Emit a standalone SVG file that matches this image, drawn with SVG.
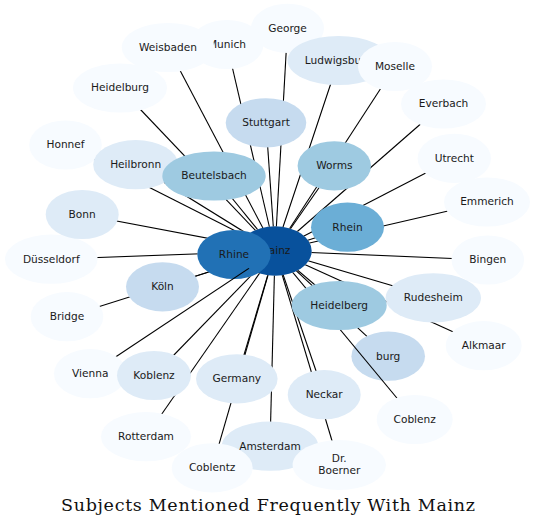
<svg xmlns="http://www.w3.org/2000/svg" width="536" height="528" viewBox="0 0 536 528">
<style>
.n ellipse{stroke:none}
.n text{font-family:"DejaVu Sans","Liberation Sans",sans-serif;font-size:10.6px;fill:#1a1a1a;text-anchor:middle}
.c0{fill:#f7fbff}.c1{fill:#deebf7}.c2{fill:#c6dbef}.c3{fill:#9ecae1}.c4{fill:#6baed6}.c6{fill:#2171b5}.c7{fill:#08519c}
#edges line{stroke:#000;stroke-width:1.1}
.title{font-family:"DejaVu Serif","Liberation Serif",serif;font-size:17.5px;fill:#111;text-anchor:middle}
</style>
<defs>
<mask id="mA" maskUnits="userSpaceOnUse" x="0" y="0" width="536" height="528">
<rect width="536" height="528" fill="#fff"/>
<ellipse cx="275" cy="251" rx="36.7" ry="24.7" fill="#000"/>
<ellipse cx="234" cy="254.5" rx="36.7" ry="24.6" fill="#000"/>
<ellipse cx="388.2" cy="356.2" rx="36.8" ry="24.6" fill="#000"/>
</mask>
<mask id="mB" maskUnits="userSpaceOnUse" x="0" y="0" width="536" height="528">
<rect width="536" height="528" fill="#fff"/>
<ellipse cx="275" cy="251" rx="36.7" ry="24.7" fill="#000"/>
</mask>
</defs>
<rect width="536" height="528" fill="#fff"/>

<g id="node-Mainz" class="n"><ellipse class="c7" cx="275" cy="251" rx="36.7" ry="24.7"/><text x="275" y="254.3">Mainz</text></g>
<g id="node-Rhine" class="n"><ellipse class="c6" cx="234" cy="254.5" rx="36.7" ry="24.6"/><text x="234" y="257.8">Rhine</text></g>
<g id="node-burg" class="n"><ellipse class="c2" cx="388.2" cy="356.2" rx="36.8" ry="24.6"/><text x="388.2" y="359.5">burg</text></g>

<g id="edges">
<g mask="url(#mA)">
<line x1="275" y1="251" x2="287.5" y2="28.3"/>
<line x1="275" y1="251" x2="227" y2="44.5"/>
<line x1="275" y1="251" x2="168" y2="47.5"/>
<line x1="275" y1="251" x2="338.5" y2="60.5"/>
<line x1="275" y1="251" x2="395" y2="66.5"/>
<line x1="275" y1="251" x2="443.5" y2="104"/>
<line x1="275" y1="251" x2="120" y2="88"/>
<line x1="275" y1="251" x2="266" y2="122.8"/>
<line x1="275" y1="251" x2="65.5" y2="145"/>
<line x1="275" y1="251" x2="135.7" y2="164.7"/>
<line x1="275" y1="251" x2="214" y2="176"/>
<line x1="275" y1="251" x2="334.3" y2="165.8"/>
<line x1="275" y1="251" x2="454.3" y2="158.3"/>
<line x1="275" y1="251" x2="487" y2="202"/>
<line x1="275" y1="251" x2="347.5" y2="227.2"/>
<line x1="275" y1="251" x2="82.2" y2="214.5"/>
<line x1="275" y1="251" x2="51.3" y2="259.2"/>
<line x1="275" y1="251" x2="487.8" y2="260"/>
<line x1="275" y1="251" x2="162.5" y2="286.8"/>
<line x1="275" y1="251" x2="67" y2="316.7"/>
<line x1="275" y1="251" x2="339.2" y2="305.5"/>
<line x1="275" y1="251" x2="433.3" y2="297.8"/>
<line x1="275" y1="251" x2="483.7" y2="345.7"/>
<line x1="275" y1="251" x2="388.2" y2="356.2"/>
<line x1="275" y1="251" x2="154" y2="375.5"/>
<line x1="275" y1="251" x2="236.8" y2="378.8"/>
<line x1="275" y1="251" x2="324.2" y2="394.7"/>
<line x1="275" y1="251" x2="146" y2="436.7"/>
<line x1="275" y1="251" x2="270" y2="446.2"/>
<line x1="275" y1="251" x2="212.2" y2="467.8"/>
<line x1="275" y1="251" x2="339.3" y2="465"/>
</g>
<g mask="url(#mB)">
<line x1="275" y1="251" x2="90.3" y2="373.7"/>
<line x1="275" y1="251" x2="414.7" y2="419.5"/>
</g>
</g>

<g id="node-George" class="n"><ellipse class="c0" cx="287.5" cy="28.3" rx="36.5" ry="24.6"/><text x="287.5" y="31.6">George</text></g>
<g id="node-Munich" class="n"><ellipse class="c0" cx="227" cy="44.5" rx="36.5" ry="24.6"/><text x="227" y="47.8">Munich</text></g>
<g id="node-Weisbaden" class="n"><ellipse class="c0" cx="168" cy="47.5" rx="46.3" ry="24.6"/><text x="168" y="50.8">Weisbaden</text></g>
<g id="node-Ludwigsburg" class="n"><ellipse class="c1" cx="338.5" cy="60.5" rx="51" ry="24.6"/><text x="338.5" y="63.8">Ludwigsburg</text></g>
<g id="node-Moselle" class="n"><ellipse class="c0" cx="395" cy="66.5" rx="37" ry="24.6"/><text x="395" y="69.8">Moselle</text></g>
<g id="node-Everbach" class="n"><ellipse class="c0" cx="443.5" cy="104" rx="42.5" ry="24.6"/><text x="443.5" y="107.3">Everbach</text></g>
<g id="node-Heidelburg" class="n"><ellipse class="c0" cx="120" cy="88" rx="47" ry="24.6"/><text x="120" y="91.3">Heidelburg</text></g>
<g id="node-Stuttgart" class="n"><ellipse class="c2" cx="266" cy="122.8" rx="40.3" ry="24.6"/><text x="266" y="126.1">Stuttgart</text></g>
<g id="node-Honnef" class="n"><ellipse class="c0" cx="65.5" cy="145" rx="36.3" ry="24.6"/><text x="65.5" y="148.3">Honnef</text></g>
<g id="node-Heilbronn" class="n"><ellipse class="c1" cx="135.7" cy="164.7" rx="42.5" ry="24.6"/><text x="135.7" y="168">Heilbronn</text></g>
<g id="node-Beutelsbach" class="n"><ellipse class="c3" cx="214" cy="176" rx="51.7" ry="24.6"/><text x="214" y="179.3">Beutelsbach</text></g>
<g id="node-Worms" class="n"><ellipse class="c3" cx="334.3" cy="165.8" rx="36.7" ry="24.6"/><text x="334.3" y="169.1">Worms</text></g>
<g id="node-Utrecht" class="n"><ellipse class="c0" cx="454.3" cy="158.3" rx="36.7" ry="24.6"/><text x="454.3" y="161.6">Utrecht</text></g>
<g id="node-Emmerich" class="n"><ellipse class="c0" cx="487" cy="202" rx="43" ry="24.6"/><text x="487" y="205.3">Emmerich</text></g>
<g id="node-Rhein" class="n"><ellipse class="c4" cx="347.5" cy="227.2" rx="36.5" ry="24.6"/><text x="347.5" y="230.5">Rhein</text></g>
<g id="node-Dusseldorf" class="n"><ellipse class="c0" cx="51.3" cy="259.2" rx="46.3" ry="24.6"/><text x="51.3" y="262.5">Düsseldorf</text></g>
<g id="node-Bonn" class="n"><ellipse class="c1" cx="82.2" cy="214.5" rx="36.5" ry="24.6"/><text x="82.2" y="217.8">Bonn</text></g>
<g id="node-Bingen" class="n"><ellipse class="c0" cx="487.8" cy="260" rx="36.3" ry="24.6"/><text x="487.8" y="263.3">Bingen</text></g>
<g id="node-Koln" class="n"><ellipse class="c2" cx="162.5" cy="286.8" rx="36.5" ry="24.6"/><text x="162.5" y="290.1">Köln</text></g>
<g id="node-Bridge" class="n"><ellipse class="c0" cx="67" cy="316.7" rx="36.3" ry="24.6"/><text x="67" y="320">Bridge</text></g>
<g id="node-Heidelberg" class="n"><ellipse class="c3" cx="339.2" cy="305.5" rx="47.5" ry="24.6"/><text x="339.2" y="308.8">Heidelberg</text></g>
<g id="node-Rudesheim" class="n"><ellipse class="c1" cx="433.3" cy="297.8" rx="47.7" ry="24.6"/><text x="433.3" y="301.1">Rudesheim</text></g>
<g id="node-Alkmaar" class="n"><ellipse class="c0" cx="483.7" cy="345.7" rx="38" ry="24.6"/><text x="483.7" y="349">Alkmaar</text></g>
<g id="node-Vienna" class="n"><ellipse class="c0" cx="90.3" cy="373.7" rx="36.3" ry="24.6"/><text x="90.3" y="377">Vienna</text></g>
<g id="node-Koblenz" class="n"><ellipse class="c1" cx="154" cy="375.5" rx="37" ry="24.6"/><text x="154" y="378.8">Koblenz</text></g>
<g id="node-Germany" class="n"><ellipse class="c1" cx="236.8" cy="378.8" rx="40.8" ry="24.6"/><text x="236.8" y="382.1">Germany</text></g>
<g id="node-Neckar" class="n"><ellipse class="c1" cx="324.2" cy="394.7" rx="36.5" ry="24.6"/><text x="324.2" y="398">Neckar</text></g>
<g id="node-Coblenz" class="n"><ellipse class="c0" cx="414.7" cy="419.5" rx="38" ry="24.6"/><text x="414.7" y="422.8">Coblenz</text></g>
<g id="node-Rotterdam" class="n"><ellipse class="c0" cx="146" cy="436.7" rx="45" ry="24.6"/><text x="146" y="440">Rotterdam</text></g>
<g id="node-Amsterdam" class="n"><ellipse class="c1" cx="270" cy="446.2" rx="48.3" ry="24.6"/><text x="270" y="449.5">Amsterdam</text></g>
<g id="node-Coblentz" class="n"><ellipse class="c0" cx="212.2" cy="467.8" rx="40.5" ry="24.6"/><text x="212.2" y="471.1">Coblentz</text></g>
<g id="node-DrBoerner" class="n"><ellipse class="c0" cx="339.3" cy="465" rx="46.7" ry="25"/><text x="339.3" y="462">Dr.</text><text x="339.3" y="474">Boerner</text></g>

<text class="title" x="268" y="511" textLength="414" lengthAdjust="spacing">Subjects Mentioned Frequently With Mainz</text>
</svg>
